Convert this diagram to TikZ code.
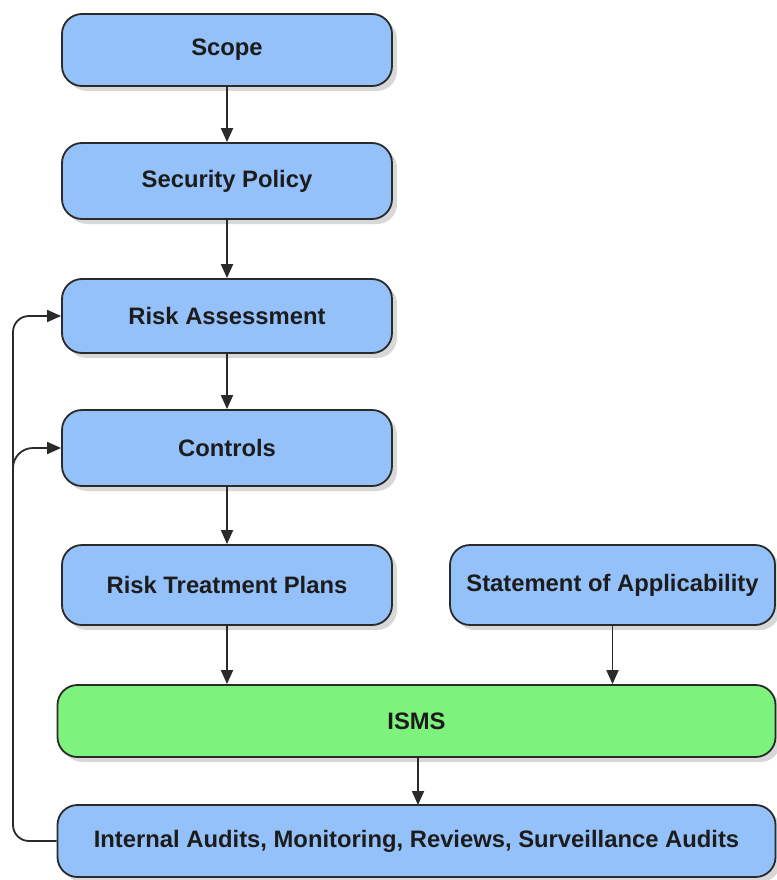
\documentclass[tikz,border=0pt]{standalone}
\usepackage{fontspec}
\setmainfont{Liberation Sans}
\usetikzlibrary{arrows.meta,shadows}
\definecolor{boxblue}{HTML}{94C1FA}
\definecolor{boxgreen}{HTML}{7DF27C}
\definecolor{edge}{HTML}{2A2A2A}
\definecolor{ink}{HTML}{1C1C1C}
\tikzset{
  stagebox/.style={draw=edge, line width=1.8pt, rounded corners=20pt,
    fill=boxblue, text=ink, font=\fontsize{23.8}{27}\selectfont\bfseries,
    inner sep=0pt,
    drop shadow={shadow xshift=5pt, shadow yshift=-5pt, fill=black!30}},
  corebox/.style={stagebox, fill=boxgreen},
  flow/.style={draw=edge, line width=1.8pt,
    -{Triangle[length=14pt,width=12pt]}},
}
\begin{document}
\begin{tikzpicture}[x=1pt,y=-1pt]
\useasboundingbox (0,0) rectangle (776,880);

\node[stagebox, minimum width=330pt, minimum height=72pt] (scope) at (227,50) {Scope};
\node[stagebox, minimum width=330pt, minimum height=76pt] (policy) at (227,181) {Security Policy};
\node[stagebox, minimum width=330pt, minimum height=74pt] (risk) at (227,316) {Risk Assessment};
\node[stagebox, minimum width=330pt, minimum height=76pt] (ctrl) at (227,448) {Controls};
\node[stagebox, minimum width=330pt, minimum height=80pt] (rtp) at (227,585) {Risk Treatment Plans};
\node[stagebox, minimum width=325pt, minimum height=80pt] (soa) at (612.5,585) {Statement of Applicability};
\node[corebox, minimum width=718pt, minimum height=72pt] (isms) at (416.5,721) {ISMS};
\node[stagebox, minimum width=718pt, minimum height=72pt] (audit) at (416.5,841) {Internal Audits, Monitoring, Reviews, Surveillance Audits};

\draw[flow] (scope) -- (policy);
\draw[flow] (policy) -- (risk);
\draw[flow] (risk) -- (ctrl);
\draw[flow] (ctrl) -- (rtp);
\draw[flow] (rtp.south) -- (rtp.south |- isms.north);
\draw[flow] (soa.south) -- (soa.south |- isms.north);
\draw[flow] (418,757) -- (418,805);

% feedback loop from the audits back into the cycle
\coordinate (loop) at (13,841);
\coordinate (fork) at (13,485);
\draw[flow, rounded corners=16pt] (audit.west) -- (loop) |- (risk.west);
\draw[flow, rounded corners=20pt] (fork) |- (ctrl.west);
\end{tikzpicture}
\end{document}
